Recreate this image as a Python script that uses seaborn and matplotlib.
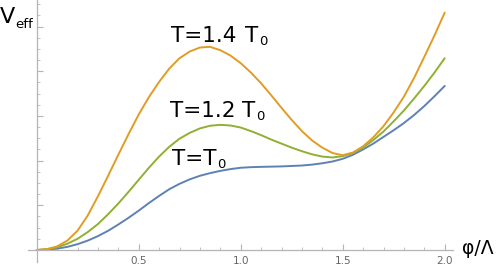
import numpy as np
import pandas as pd
import seaborn as sns
import matplotlib
matplotlib.use("Agg")
import matplotlib.pyplot as plt

# field values phi/Lambda
phi = [0.0, 0.05, 0.1, 0.15, 0.2, 0.25, 0.3, 0.35, 0.4, 0.45, 0.5, 0.55, 0.6,
       0.65, 0.7, 0.75, 0.8, 0.85, 0.9, 0.95, 1.0, 1.05, 1.1, 1.15, 1.2, 1.25,
       1.3, 1.35, 1.4, 1.45, 1.5, 1.55, 1.6, 1.65, 1.7, 1.75, 1.8, 1.85, 1.9,
       1.95, 2.0]
# effective potential (arbitrary units)
v_t10 = [0.0, 0.008, 0.03, 0.07, 0.13, 0.21, 0.31, 0.43, 0.57, 0.72, 0.88,
         1.05, 1.21, 1.36, 1.48, 1.58, 1.66, 1.72, 1.77, 1.81, 1.84, 1.853,
         1.86, 1.865, 1.87, 1.88, 1.89, 1.91, 1.94, 1.98, 2.04, 2.13, 2.25,
         2.38, 2.53, 2.68, 2.84, 3.02, 3.22, 3.44, 3.67]
v_t12 = [0.0, 0.015, 0.06, 0.14, 0.25, 0.40, 0.58, 0.80, 1.04, 1.30, 1.57,
         1.84, 2.09, 2.31, 2.49, 2.62, 2.72, 2.78, 2.80, 2.785, 2.74, 2.66,
         2.57, 2.47, 2.38, 2.29, 2.21, 2.14, 2.09, 2.07, 2.10, 2.17, 2.29,
         2.46, 2.65, 2.88, 3.12, 3.39, 3.67, 3.97, 4.29]
v_t14 = [0.0, 0.02, 0.08, 0.21, 0.43, 0.77, 1.20, 1.66, 2.13, 2.59, 3.03,
         3.42, 3.76, 4.06, 4.29, 4.44, 4.53, 4.545, 4.47, 4.35, 4.18, 3.97,
         3.73, 3.46, 3.18, 2.91, 2.66, 2.45, 2.29, 2.17, 2.12, 2.18, 2.32,
         2.52, 2.77, 3.08, 3.43, 3.85, 4.32, 4.80, 5.31]
series_names = ["T=T0", "T=1.2 T0", "T=1.4 T0"]
colors = ["#5E81B5", "#8FB032", "#E19C24"]

df = pd.concat([
    pd.DataFrame({"phi": phi, "V": v, "T": name})
    for v, name in zip([v_t10, v_t12, v_t14], series_names)
])

sns.set_style("white")
W, H = 498, 266
fig = plt.figure(figsize=(W / 100, H / 100), dpi=100)
ax = fig.add_axes([28.3 / W, (H - 262) / H, (453 - 28.3) / W, 262 / H])

sns.lineplot(data=df, x="phi", y="V", hue="T", hue_order=series_names,
             palette=colors, legend=False, linewidth=1.4, ax=ax, sort=True)
for ln in ax.get_lines():
    ln.set_solid_joinstyle("round")

ax.set_xlim((28.3 - 36.7) / 204, (453 - 36.7) / 204)
ax.set_ylim((250 - 262) / 44.7, 250 / 44.7)

axis_color = "#b5b5b5"
for s in ["top", "right"]:
    ax.spines[s].set_visible(False)
ax.spines["left"].set_position(("data", 0))
ax.spines["bottom"].set_position(("data", 0))
for s in ["left", "bottom"]:
    ax.spines[s].set_color(axis_color)
    ax.spines[s].set_linewidth(0.9)

ax.set_xticks([0.5, 1.0, 1.5, 2.0])
ax.set_xticklabels(["0.5", "1.0", "1.5", "2.0"])
ax.set_xticks([x / 10 for x in range(1, 21) if x % 5 != 0], minor=True)
ax.set_yticks([1, 2, 3, 4, 5])
ax.set_yticklabels([])
ax.set_yticks([y / 4 for y in range(1, 23) if y % 4 != 0], minor=True)

ax.tick_params(axis="both", which="major", direction="in", length=4,
               width=0.8, color=axis_color, labelsize=7.5, labelcolor="#666666")
ax.tick_params(axis="both", which="minor", direction="in", length=2.3,
               width=0.6, color=axis_color)
ax.tick_params(axis="x", which="both", pad=4.5, bottom=True, top=False)
ax.tick_params(axis="y", which="both", left=True, right=False)
ax.set_xlabel("")
ax.set_ylabel("")
ax.patch.set_alpha(0)

def ftext(px, py, s, size, **kw):
    fig.text(px / W, 1 - py / H, s, fontsize=size, color="black",
             va="baseline", **kw)

MAIN, SUB = 15.5, 9.5
# T = 1.4 T0
ftext(171, 41.7, "T=1.4", MAIN)
ftext(245, 41.7, "T", MAIN)
ftext(259.5, 45.0, "0", SUB)
# T = 1.2 T0
ftext(170, 116.7, "T=1.2", MAIN)
ftext(242, 116.7, "T", MAIN)
ftext(256.5, 120.0, "0", SUB)
# T = T0
ftext(171.5, 165, "T=T", MAIN)
ftext(217, 168.5, "0", SUB)
# axis labels
ftext(0, 23.3, "V", 16)
ftext(15, 28.3, "eff", 9.5)
ftext(461.5, 254, "φ/Λ", 13.5)

fig.savefig("out.png", dpi=100)
